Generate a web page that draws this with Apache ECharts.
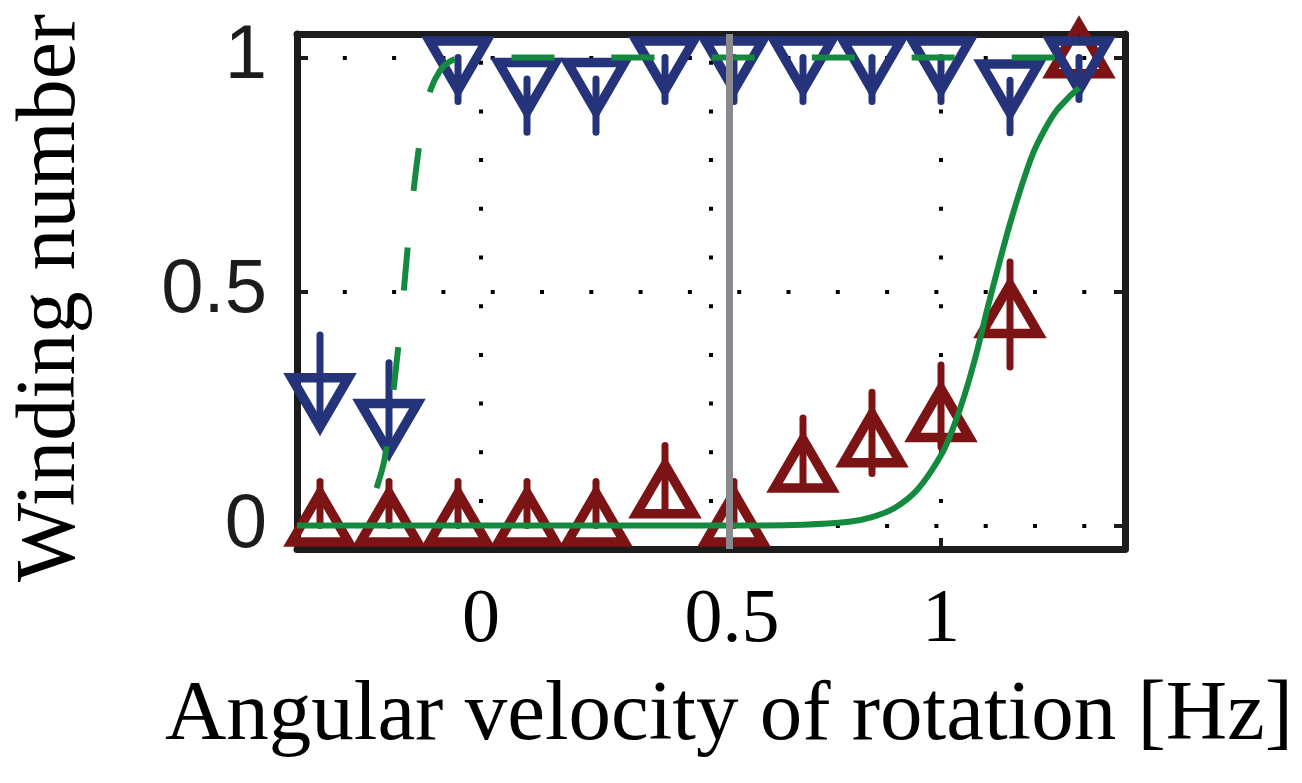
<!DOCTYPE html>
<html>
<head>
<meta charset="utf-8">
<script src="https://cdn.jsdelivr.net/npm/echarts@6/dist/echarts.min.js"></script>
<style>
html,body{margin:0;padding:0;background:#fff;}
#chart{width:1302px;height:783px;}
</style>
</head>
<body>
<div id="chart"></div>
<script>
// ---- data ----
const xs = [-0.35, -0.2, -0.05, 0.1, 0.25, 0.4, 0.55, 0.7, 0.85, 1.0, 1.15, 1.3];
// blue, downward triangles
const downY  = [0.281, 0.226, 1, 0.954, 0.954, 1, 1, 1, 1, 1, 0.951, 1];
const downLo = [0.07, 0.07, 0.094, 0.114, 0.114, 0.094, 0.094, 0.094, 0.094, 0.094, 0.112, 0.09];
const downHi = [0.126, 0.122, 0, 0, 0, 0, 0, 0, 0, 0, 0, 0];
// red, upward triangles
const upY  = [0, 0, 0, 0, 0, 0.06, 0, 0.115, 0.169, 0.223, 0.445, 1];
const upLo = [0, 0, 0, 0, 0, 0.03, 0, 0.03, 0.058, 0.055, 0.106, 0];
const upHi = [0.094, 0.094, 0.094, 0.094, 0.094, 0.111, 0.094, 0.115, 0.116, 0.12, 0.118, 0];
// solid green fit
const fitX = [-0.4, 0.2, 0.5, 0.7, 0.8, 0.85, 0.9, 0.95, 1.0, 1.025, 1.05, 1.075, 1.1, 1.125, 1.15, 1.175, 1.2, 1.225, 1.25, 1.275, 1.3];
const fitY = [0.0, 0.0, 0.0, 0.002, 0.008, 0.018, 0.038, 0.078, 0.15, 0.205, 0.275, 0.36, 0.46, 0.555, 0.645, 0.725, 0.795, 0.845, 0.885, 0.912, 0.935];
// dashed green fit
const dashX = [-0.227, -0.21, -0.195, -0.18, -0.168, -0.155, -0.14, -0.125, -0.11, -0.09, -0.07, -0.04, 1.3];
const dashY = [0.08, 0.14, 0.25, 0.38, 0.5, 0.64, 0.77, 0.87, 0.93, 0.97, 0.99, 1.0, 1.0];
// gray vertical marker
const thresholdX = 0.54;
// ticks
const xTicks = [0, 0.5, 1];
const yTicks = [0, 0.5, 1];
const xTitle = 'Angular velocity of rotation [Hz]';
const yTitle = 'Winding number';

const BLUE = '#24337a', RED = '#7c1416', GREEN = '#148a3e', GRAY = '#8a8a8e', INK = '#1c1c1c';

function triRender(dir, color) {
  return function (params, api) {
    const x = api.value(0), y = api.value(1), lo = api.value(2), hi = api.value(3);
    const c = api.coord([x, y]);
    const a = api.coord([x, y + hi]);
    const b = api.coord([x, y - lo]);
    const H = 49, W = 28.5;
    let pts;
    if (dir > 0) pts = [[c[0], c[1] - 2 * H / 3], [c[0] + W, c[1] + H / 3], [c[0] - W, c[1] + H / 3]];
    else pts = [[c[0], c[1] + 2 * H / 3], [c[0] + W, c[1] - H / 3], [c[0] - W, c[1] - H / 3]];
    const children = [];
    if (hi > 0 || lo > 0) {
      children.push({ type: 'line', shape: { x1: c[0], y1: a[1], x2: c[0], y2: b[1] },
        style: { stroke: color, lineWidth: 7, lineCap: 'round' } });
    }
    children.push({ type: 'polygon', shape: { points: pts },
      style: { fill: 'none', stroke: color, lineWidth: 9.5, lineJoin: 'miter', miterLimit: 10 } });
    return { type: 'group', children: children };
  };
}

const chart = echarts.init(document.getElementById('chart'), null, { renderer: 'canvas' });

const axisLineStyle = { show: true, onZero: false, lineStyle: { color: INK, width: 7 } };
const tickStyle = { show: true, inside: true, length: 11, lineStyle: { color: INK, width: 4 } };

const option = {
  animation: false,
  backgroundColor: '#fff',
  grid: { left: 297, right: 177, top: 34, bottom: 234, containLabel: false },
  xAxis: [{
    type: 'value', min: -0.4, max: 1.4, position: 'bottom',
    axisLine: axisLineStyle,
    axisTick: Object.assign({ customValues: xTicks }, tickStyle),
    axisLabel: {
      customValues: xTicks, margin: 34,
      fontFamily: 'Liberation Serif', fontSize: 76, color: '#000',
      formatter: function (v) { return v === 0.5 ? '{s|0.5}' : String(v); },
      rich: { s: { padding: [0, 0, 0, 42], fontFamily: 'Liberation Serif', fontSize: 76, color: '#000' } }
    },
    splitLine: { show: true, lineStyle: { color: '#000', width: 4, type: [4, 44.7], dashOffset: 22, cap: 'butt' } }
  }, {
    type: 'value', min: -0.4, max: 1.4, position: 'top',
    axisLine: axisLineStyle,
    axisTick: Object.assign({ customValues: xTicks }, tickStyle),
    axisLabel: { show: false },
    splitLine: { show: false }
  }],
  yAxis: [{
    type: 'value', min: -0.05, max: 1.05, position: 'left',
    axisLine: axisLineStyle,
    axisTick: Object.assign({ customValues: yTicks }, tickStyle),
    axisLabel: { customValues: yTicks, margin: 30, fontFamily: 'Liberation Sans', fontSize: 76, color: INK },
    splitLine: { show: true, lineStyle: { color: '#000', width: 4, type: [4, 45.3], dashOffset: 3.5, cap: 'butt' } }
  }, {
    type: 'value', min: -0.05, max: 1.05, position: 'right',
    axisLine: axisLineStyle,
    axisTick: Object.assign({ customValues: yTicks }, tickStyle),
    axisLabel: { show: false },
    splitLine: { show: false }
  }],
  graphic: [
    { type: 'text', x: 729, y: 717, style: { text: xTitle, font: '85px "Liberation Serif"', fill: '#000', textAlign: 'center', textVerticalAlign: 'middle' } },
    { type: 'text', x: 52, y: 298, rotation: Math.PI / 2, style: { text: yTitle, font: '84px "Liberation Serif"', fill: '#000', textAlign: 'center', textVerticalAlign: 'middle' } }
  ],
  series: [
    {
      type: 'custom', name: 'up', z: 2, clip: false,
      renderItem: triRender(1, RED),
      data: xs.map((x, i) => [x, upY[i], upLo[i], upHi[i]])
    },
    {
      type: 'custom', name: 'down', z: 3, clip: false,
      renderItem: triRender(-1, BLUE),
      data: xs.map((x, i) => [x, downY[i], downLo[i], downHi[i]])
    },
    {
      type: 'line', name: 'fitDashed', z: 4, showSymbol: false, symbol: 'none', smooth: 0.3,
      lineStyle: { color: GREEN, width: 6, type: [43, 57], cap: 'butt' },
      data: dashX.map((x, i) => [x, dashY[i]])
    },
    {
      type: 'line', name: 'fitSolid', z: 4, showSymbol: false, symbol: 'none', smooth: 0.3,
      lineStyle: { color: GREEN, width: 6 },
      data: fitX.map((x, i) => [x, fitY[i]]),
      markLine: {
        silent: true, symbol: ['none', 'none'], label: { show: false }, z: 6,
        lineStyle: { color: GRAY, width: 7, type: 'solid' },
        emphasis: { disabled: true },
        data: [{ xAxis: thresholdX }]
      }
    }
  ]
};
chart.setOption(option);
</script>
</body>
</html>
